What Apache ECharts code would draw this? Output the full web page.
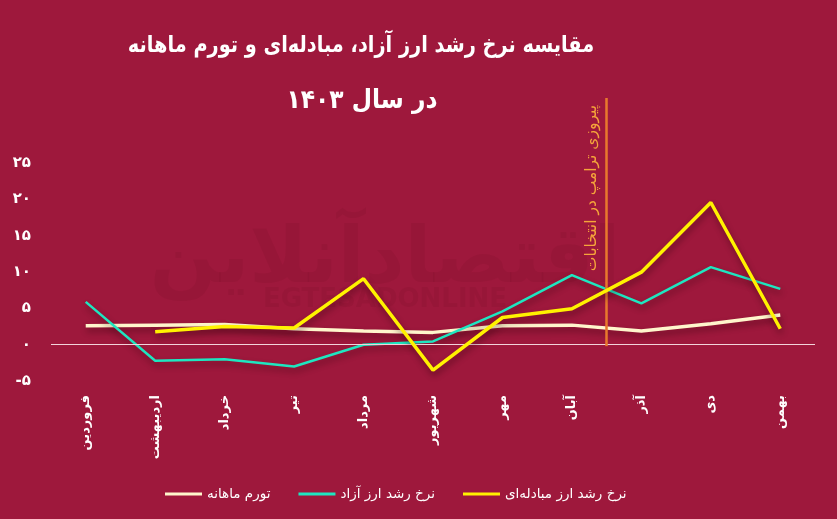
<!DOCTYPE html>
<html><head><meta charset="utf-8">
<script src="https://cdn.jsdelivr.net/npm/echarts@6/dist/echarts.min.js"></script>
<style>html,body{margin:0;padding:0;background:#9E183C;}#c{width:837px;height:519px;}</style>
</head><body><div id="c"></div>
<script>
const months = ['فروردین','اردیبهشت','خرداد','تیر','مرداد','شهریور','مهر','آبان','آذر','دی','بهمن'];
const inflation = [2.6, 2.7, 2.8, 2.2, 1.9, 1.7, 2.6, 2.7, 1.9, 2.9, 4.1];
const freeRate = [5.9, -2.2, -2.0, -3.0, 0.0, 0.45, 4.6, 9.6, 5.7, 10.7, 7.7];
const exchangeRate = [null, 1.8, 2.5, 2.3, 9.1, -3.5, 3.75, 4.95, 10.0, 19.6, 2.2];
const seriesNames = ['تورم ماهانه','نرخ رشد ارز آزاد','نرخ رشد ارز مبادله‌ای'];
const eventLabel = 'پیروزی ترامپ در انتخابات';
const eventPosition = 7.5;
const titleLine1 = 'مقایسه نرخ رشد ارز آزاد، مبادله‌ای و تورم ماهانه';
const titleLine2 = 'در سال ۱۴۰۳';

const FONT = '"DejaVu Sans", sans-serif';
const fa = s => String(s).replace(/\d/g, d => '۰۱۲۳۴۵۶۷۸۹'[d]);
const shadow = {shadowColor:'rgba(40,0,10,0.45)', shadowBlur:6, shadowOffsetY:4, shadowOffsetX:1};

const chart = echarts.init(document.getElementById('c'), null, {renderer:'canvas'});
chart.setOption({
  backgroundColor:'#9E183C',
  animation:false,
  textStyle:{fontFamily:FONT},
  graphic:[
    {type:'text', z:0, x:385, y:262, style:{text:'اقتصادآنلاین', x:0, y:0, align:'center', verticalAlign:'middle', font:'bold 78px '+FONT, fill:'rgba(70,0,20,0.07)'}},
    {type:'text', z:0, x:385, y:300, style:{text:'EGTESADONLINE', x:0, y:0, align:'center', verticalAlign:'middle', font:'bold 26px '+FONT, fill:'rgba(70,0,20,0.07)'}},
    {type:'text', x:361, y:46, scaleX:0.84, style:{text:titleLine1, x:0, y:0, align:'center', verticalAlign:'middle', font:'bold 23px '+FONT, fill:'#ffffff'}},
    {type:'text', x:362, y:101, scaleX:0.9, style:{text:titleLine2, x:0, y:0, align:'center', verticalAlign:'middle', font:'bold 26px '+FONT, fill:'#ffffff'}}
  ],
  legend:{
    data:seriesNames, left:160, top:482, icon:'rect', itemWidth:37, itemHeight:3, itemGap:28,
    textStyle:{color:'#ffffff', fontSize:13.5, fontWeight:'normal', fontFamily:FONT}
  },
  grid:{left:51, right:22, top:98, bottom:138, containLabel:false},
  xAxis:[
    {type:'category', data:months, boundaryGap:true,
     axisLine:{show:false}, axisTick:{show:false}, splitLine:{show:false},
     axisLabel:{rotate:90, color:'#ffffff', fontSize:13, fontWeight:'bold', margin:14, interval:0, fontFamily:FONT}},
    {type:'value', min:-0.5, max:10.5, show:false}
  ],
  yAxis:{type:'value', min:-5, max:34, interval:5,
    axisLine:{show:false}, axisTick:{show:false}, splitLine:{show:false},
    axisLabel:{color:'#ffffff', fontSize:15, fontWeight:'bold', margin:20, fontFamily:FONT,
      formatter:v => v > 25 ? '' : (v < 0 ? '-' + fa(-v) : fa(v))}},
  series:[
    {name:seriesNames[0], type:'line', data:inflation, symbol:'none', color:'#FFF6CC',
     lineStyle:Object.assign({width:3.5, color:'#FFF6CC'}, shadow), z:3,
     markLine:{silent:true, symbol:'none', label:{show:false}, lineStyle:{color:'#F3D3DA', width:1.2, type:'solid'},
       data:[{yAxis:0}]}},
    {name:seriesNames[1], type:'line', data:freeRate, symbol:'none', color:'#1EE6C0',
     lineStyle:Object.assign({width:2.5, color:'#1EE6C0'}, shadow), z:4},
    {name:seriesNames[2], type:'line', data:exchangeRate, symbol:'none', color:'#FFF200',
     lineStyle:Object.assign({width:3.5, color:'#FFF200'}, shadow), z:5},
    {type:'line', xAxisIndex:1, data:[], symbol:'none', silent:true,
     markLine:{silent:true, symbol:'none',
       lineStyle:{color:'#E8782C', width:2.5, type:'solid'},
       label:{show:true, position:'insideEndTop', formatter:eventLabel, color:'#F5A53A', fontSize:15.5, fontFamily:FONT, distance:7},
       data:[[{coord:[eventPosition, -0.2]}, {coord:[eventPosition, 34]}]]}}
  ]
});
</script></body></html>
